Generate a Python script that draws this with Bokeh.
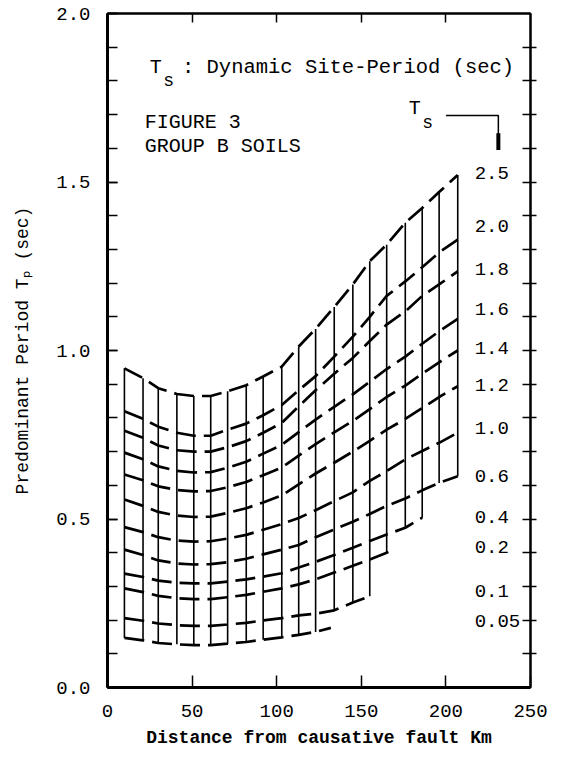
import numpy as np
from bokeh.plotting import figure
from bokeh.models import (Range1d, LinearAxis, SingleIntervalTicker, FixedTicker, Label,
                          CustomJSTickFormatter, NumeralTickFormatter)
from bokeh.embed import file_html
from bokeh.resources import INLINE

# ---------------- data ----------------
dist_km = [10, 21, 30, 41, 51, 61, 71, 82, 92, 103, 113, 123, 134, 145, 155, 165, 176, 186, 196, 207]
ts_labels = ["2.5", "2.0", "1.8", "1.6", "1.4", "1.2", "1.0", "0.6", "0.4", "0.2", "0.1", "0.05"]
ts_label_y = [1.526, 1.368, 1.241, 1.124, 1.006, 0.897, 0.771, 0.629, 0.506, 0.418, 0.285, 0.197]

tp_ts25 = [0.947, 0.918, 0.888, 0.871, 0.865, 0.865, 0.879, 0.897, 0.923, 0.952,
           1.012, 1.064, 1.129, 1.196, 1.265, 1.314, 1.379, 1.423, 1.470, 1.521]
tp_ts20 = [0.820, 0.797, 0.774, 0.756, 0.747, 0.747, 0.765, 0.783, 0.808, 0.838,
           0.882, 0.924, 0.982, 1.041, 1.100, 1.162, 1.205, 1.247, 1.291, 1.329]
tp_ts18 = [0.762, 0.741, 0.718, 0.704, 0.700, 0.700, 0.713, 0.731, 0.756, 0.785,
           0.834, 0.882, 0.931, 0.978, 1.028, 1.077, 1.116, 1.162, 1.196, 1.235]
tp_ts16 = [0.697, 0.677, 0.656, 0.643, 0.638, 0.639, 0.652, 0.670, 0.694, 0.720,
           0.758, 0.795, 0.833, 0.870, 0.907, 0.945, 0.982, 1.020, 1.057, 1.094]
tp_ts14 = [0.632, 0.615, 0.597, 0.586, 0.582, 0.583, 0.594, 0.610, 0.630, 0.653,
           0.688, 0.722, 0.757, 0.791, 0.826, 0.862, 0.896, 0.931, 0.965, 1.000]
tp_ts12 = [0.558, 0.539, 0.521, 0.510, 0.506, 0.507, 0.518, 0.532, 0.549, 0.570,
           0.603, 0.635, 0.667, 0.700, 0.732, 0.765, 0.797, 0.829, 0.862, 0.894]
tp_ts10 = [0.476, 0.461, 0.446, 0.436, 0.433, 0.434, 0.442, 0.453, 0.468, 0.485,
           0.503, 0.526, 0.553, 0.579, 0.613, 0.642, 0.677, 0.702, 0.726, 0.756]
tp_ts06 = [0.409, 0.393, 0.377, 0.368, 0.365, 0.366, 0.372, 0.382, 0.395, 0.409,
           0.423, 0.446, 0.469, 0.492, 0.515, 0.539, 0.561, 0.585, 0.607, 0.627]
tp_ts04 = [0.338, 0.328, 0.317, 0.311, 0.309, 0.309, 0.314, 0.321, 0.329, 0.339,
           0.356, 0.373, 0.393, 0.415, 0.435, 0.454, 0.474, 0.504]
x_ts02 = [10, 21, 30, 41, 51, 61, 71, 82, 92, 103, 113, 123, 134, 145, 155, 165, 170]
tp_ts02 = [0.294, 0.283, 0.272, 0.265, 0.262, 0.262, 0.268, 0.275, 0.284, 0.294,
           0.306, 0.321, 0.341, 0.361, 0.380, 0.400, 0.412]
tp_ts01 = [0.206, 0.198, 0.190, 0.185, 0.183, 0.183, 0.187, 0.192, 0.199, 0.206,
           0.214, 0.219, 0.229, 0.252, 0.271]
x_ts005 = [10, 21, 30, 41, 51, 61, 71, 82, 92, 103, 113, 123, 132]
tp_ts005 = [0.147, 0.140, 0.132, 0.128, 0.126, 0.126, 0.130, 0.135, 0.142, 0.149,
            0.156, 0.165, 0.177]

curves = [
    (dist_km, tp_ts25), (dist_km, tp_ts20), (dist_km, tp_ts18), (dist_km, tp_ts16),
    (dist_km, tp_ts14), (dist_km, tp_ts12), (dist_km, tp_ts10), (dist_km, tp_ts06),
    (dist_km[:len(tp_ts04)], tp_ts04), (x_ts02, tp_ts02),
    (dist_km[:len(tp_ts01)], tp_ts01), (x_ts005, tp_ts005),
]

FONT = "Liberation Mono"

p = figure(width=579, height=757, x_range=Range1d(0, 250), y_range=Range1d(0, 2.0),
           output_backend="svg", toolbar_location=None,
           min_border_left=107, min_border_right=49, min_border_top=13, min_border_bottom=70)
p.background_fill_color = "white"
p.border_fill_color = "white"
p.xgrid.visible = False
p.ygrid.visible = False
p.outline_line_color = "black"
p.outline_line_width = 2

# left axis
ya = p.yaxis[0]
ya.ticker = SingleIntervalTicker(interval=0.5, num_minor_ticks=5)
ya.formatter = NumeralTickFormatter(format="0.0")
ya.major_tick_in = 10
ya.major_tick_out = 0
ya.minor_tick_in = 10
ya.minor_tick_out = 0
ya.major_tick_line_width = 1.5
ya.minor_tick_line_width = 1.5
ya.axis_line_width = 3
ya.major_label_standoff = 17
ya.major_label_text_font = FONT
ya.major_label_text_font_size = "19px"
ya.major_label_text_color = "black"
ya.axis_label = "Predominant Period T\u209a (sec)"
ya.axis_label_text_font = FONT
ya.axis_label_text_font_size = "18px"
ya.axis_label_text_font_style = "normal"
ya.axis_label_text_color = "black"
ya.axis_label_standoff = 20

# bottom axis
xa = p.xaxis[0]
xa.ticker = FixedTicker(ticks=[0, 50, 100, 150, 200, 250])
xa.major_tick_in = 12
xa.major_tick_out = 0
xa.minor_tick_in = 0
xa.minor_tick_out = 0
xa.major_tick_line_width = 1.5
xa.axis_line_width = 3
xa.major_label_standoff = 17
xa.major_label_text_font = FONT
xa.major_label_text_font_size = "19px"
xa.major_label_text_color = "black"
xa.axis_label = "Distance from causative fault Km"
xa.axis_label_text_font = FONT
xa.axis_label_text_font_size = "18px"
xa.axis_label_text_font_style = "bold"
xa.axis_label_text_color = "black"
xa.axis_label_standoff = 8

blank = CustomJSTickFormatter(code="return ''")

# top axis (ticks only)
ta = LinearAxis(ticker=FixedTicker(ticks=[50, 100, 150, 200]), formatter=blank)
ta.major_tick_in = 9
ta.major_tick_out = 0
ta.minor_tick_in = 0
ta.minor_tick_out = 0
ta.major_tick_line_width = 1.5
ta.axis_line_width = 2
ta.major_label_standoff = 0
ta.major_label_text_font_size = "1px"
p.add_layout(ta, "above")

# right axis (crossing ticks only)
ra = LinearAxis(ticker=FixedTicker(ticks=[i / 10 for i in range(1, 20)]), formatter=blank)
ra.major_tick_in = 8
ra.major_tick_out = 6
ra.minor_tick_in = 0
ra.minor_tick_out = 0
ra.major_tick_line_width = 1.5
ra.axis_line_width = 2
ra.major_label_standoff = 0
ra.major_label_text_font_size = "1px"
p.add_layout(ra, "right")

# dashed Ts curves
for xs, ys in curves:
    p.line(xs, ys, line_color="black", line_width=2.7, line_dash="20 8")

# vertical connectors at each distance
vx, vtop, vbot = [], [], []
for xv in dist_km:
    vals = [float(np.interp(xv, xs, ys)) for xs, ys in curves if xs[0] <= xv <= xs[-1]]
    vx.append(xv)
    vtop.append(max(vals))
    vbot.append(min(vals))
p.segment(x0=vx, y0=vbot, x1=vx, y1=vtop, line_color="black", line_width=1.6)

# curve labels
for lab, ly in zip(ts_labels, ts_label_y):
    p.add_layout(Label(x=217, y=ly, text=lab, text_font=FONT, text_font_size="19px",
                       text_color="black", text_baseline="middle", text_align="left"))

# annotation texts
def txt(x, y, s, size="20px"):
    p.add_layout(Label(x=x, y=y, text=s, text_font=FONT, text_font_size=size,
                       text_color="black", text_baseline="middle", text_align="left"))

txt(25, 1.84, "T")
txt(33, 1.80, "s", "18px")
txt(44, 1.84, ": Dynamic Site-Period (sec)", "20.5px")
txt(22, 1.676, "FIGURE 3")
txt(22, 1.606, "GROUP B SOILS")
txt(178, 1.718, "T")
txt(186, 1.676, "s", "18px")

bracket_x = [200, 231, 231]
bracket_y = [1.697, 1.697, 1.62]
p.line(bracket_x, bracket_y, line_color="black", line_width=1.5)
p.segment(x0=[231], y0=[1.645], x1=[231], y1=[1.595], line_color="black", line_width=4)

open("out.html", "w").write(file_html(p, INLINE))
